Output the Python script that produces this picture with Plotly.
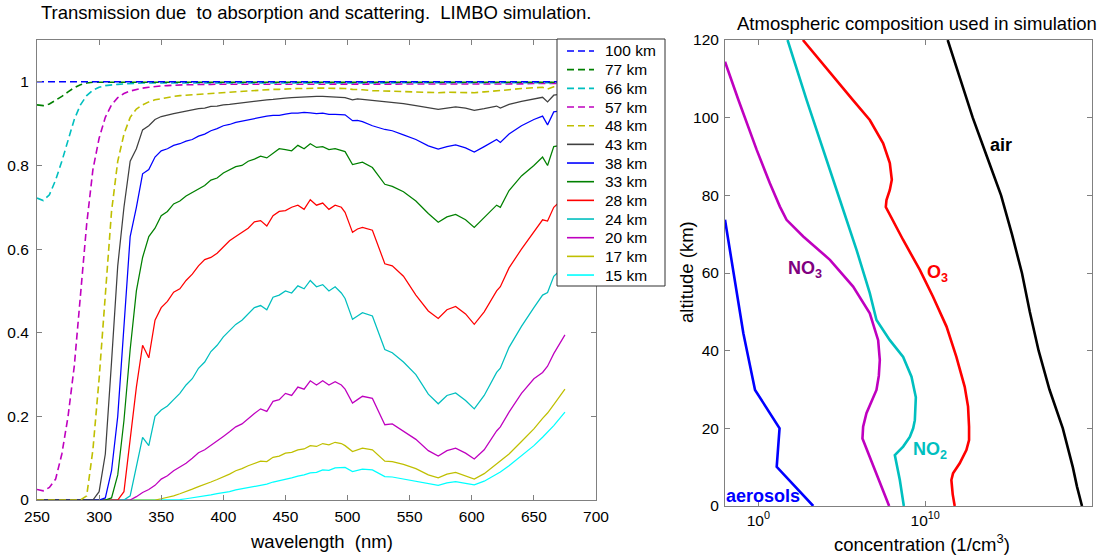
import plotly.graph_objects as go
import numpy as np

W, H = 1106, 556


def px(x):
    return x / W


def py(y):
    return 1 - y / H


# ---------------- Left panel data: transmission vs wavelength (nm) ----------------
wl = [250, 255, 260, 265, 270, 275, 280, 285, 290, 295,
      300, 305, 310, 315, 320, 325, 330, 335, 340, 345,
      350, 355, 360, 365, 370, 375, 380, 385, 390, 395,
      400, 405, 410, 415, 420, 425, 430, 435, 440, 445,
      450, 455, 460, 465, 470, 475, 480, 485, 490, 495,
      498, 504, 508, 512, 520, 530, 536, 545, 555, 565,
      573, 580, 587, 595, 602, 610, 620, 623, 630, 640,
      650, 657, 661, 666, 675]

t100 = [1.0, 1.0, 1.0, 1.0, 1.0, 1.0, 1.0, 1.0, 1.0, 1.0,
        1.0, 1.0, 1.0, 1.0, 1.0, 1.0, 1.0, 1.0, 1.0, 1.0,
        1.0, 1.0, 1.0, 1.0, 1.0, 1.0, 1.0, 1.0, 1.0, 1.0,
        1.0, 1.0, 1.0, 1.0, 1.0, 1.0, 1.0, 1.0, 1.0, 1.0,
        1.0, 1.0, 1.0, 1.0, 1.0, 1.0, 1.0, 1.0, 1.0, 1.0,
        1.0, 1.0, 1.0, 1.0, 1.0, 1.0, 1.0, 1.0, 1.0, 1.0,
        1.0, 1.0, 1.0, 1.0, 1.0, 1.0, 1.0, 1.0, 1.0, 1.0,
        1.0, 1.0, 1.0, 1.0, 1.0]

t77 = [0.945, 0.943, 0.947, 0.955, 0.965, 0.976, 0.986, 0.993, 0.997, 0.999,
       0.999, 0.999, 0.999, 0.999, 0.999, 0.999, 0.999, 0.999, 0.999, 0.999,
       0.999, 0.999, 0.999, 0.999, 0.999, 0.999, 0.999, 0.999, 0.999, 0.999,
       0.999, 0.999, 0.999, 0.999, 0.999, 0.999, 0.999, 0.999, 0.999, 0.999,
       0.999, 0.999, 0.999, 0.999, 0.999, 0.999, 0.999, 0.999, 0.999, 0.999,
       0.999, 0.999, 0.999, 0.999, 0.999, 0.999, 0.999, 0.999, 0.999, 0.999,
       0.999, 0.999, 0.999, 0.999, 0.999, 0.999, 0.999, 0.999, 0.999, 0.999,
       0.999, 0.999, 0.999, 0.999, 0.999]

t66 = [0.722, 0.716, 0.73, 0.765, 0.81, 0.86, 0.91, 0.945, 0.967, 0.98,
       0.987, 0.991, 0.993, 0.994, 0.995, 0.996, 0.996, 0.997, 0.997, 0.997,
       0.998, 0.998, 0.998, 0.998, 0.998, 0.998, 0.998, 0.998, 0.998, 0.998,
       0.998, 0.998, 0.998, 0.998, 0.998, 0.998, 0.998, 0.998, 0.998, 0.998,
       0.998, 0.998, 0.998, 0.998, 0.998, 0.998, 0.998, 0.998, 0.998, 0.998,
       0.998, 0.998, 0.998, 0.998, 0.998, 0.998, 0.998, 0.998, 0.998, 0.998,
       0.998, 0.998, 0.998, 0.998, 0.998, 0.998, 0.998, 0.998, 0.998, 0.998,
       0.998, 0.998, 0.998, 0.998, 0.998]

t57 = [0.025, 0.022, 0.03, 0.05, 0.11, 0.2, 0.32, 0.5, 0.66, 0.79,
       0.865, 0.915, 0.945, 0.962, 0.972, 0.978, 0.982, 0.985, 0.987, 0.989,
       0.99, 0.991, 0.992, 0.992, 0.993, 0.993, 0.994, 0.994, 0.994, 0.994,
       0.995, 0.995, 0.995, 0.995, 0.995, 0.995, 0.995, 0.995, 0.995, 0.995,
       0.995, 0.995, 0.995, 0.995, 0.995, 0.995, 0.995, 0.995, 0.995, 0.995,
       0.995, 0.995, 0.995, 0.995, 0.995, 0.995, 0.995, 0.995, 0.995, 0.995,
       0.995, 0.995, 0.995, 0.995, 0.995, 0.995, 0.995, 0.995, 0.995, 0.995,
       0.996, 0.996, 0.996, 0.996, 0.996]

t48 = [0, 0, 0, 0, 0, 0, 0, 0, 0.01, 0.12,
       0.29, 0.5, 0.69, 0.81, 0.875, 0.915, 0.935, 0.945, 0.952, 0.957,
       0.96, 0.963, 0.965, 0.967, 0.968, 0.969, 0.97, 0.971, 0.972, 0.973,
       0.975, 0.976, 0.977, 0.978, 0.979, 0.98, 0.981, 0.981, 0.982, 0.982,
       0.983, 0.983, 0.984, 0.984, 0.985, 0.985, 0.985, 0.985, 0.985, 0.985,
       0.984, 0.982, 0.982, 0.981, 0.979, 0.978, 0.978, 0.977, 0.976, 0.975,
       0.974, 0.975, 0.975, 0.974, 0.974, 0.976, 0.978, 0.978, 0.981, 0.984,
       0.986, 0.987, 0.983, 0.988, 0.99]

t43 = [0, 0, 0, 0, 0, 0, 0, 0, 0, 0,
       0.02, 0.11, 0.33, 0.56, 0.7, 0.81, 0.84, 0.885, 0.895, 0.91,
       0.917, 0.921, 0.924, 0.927, 0.93, 0.932, 0.936, 0.937, 0.941, 0.942,
       0.945, 0.946, 0.948, 0.95, 0.952, 0.953, 0.955, 0.957, 0.958, 0.96,
       0.961, 0.962, 0.963, 0.964, 0.965, 0.965, 0.965, 0.964, 0.964, 0.963,
       0.962, 0.957, 0.959, 0.958, 0.956, 0.953, 0.952, 0.948, 0.943, 0.937,
       0.934, 0.937, 0.94, 0.937, 0.932, 0.936, 0.942, 0.937, 0.946, 0.953,
       0.959, 0.963, 0.952, 0.968, 0.972]

t38 = [0, 0, 0, 0, 0, 0, 0, 0, 0, 0,
       0, 0.005, 0.07, 0.2, 0.41, 0.63, 0.7, 0.78, 0.79, 0.82,
       0.835, 0.84, 0.848, 0.852, 0.858, 0.862, 0.87, 0.875, 0.883, 0.888,
       0.895, 0.898, 0.903, 0.906, 0.91, 0.912, 0.915, 0.918, 0.92, 0.92,
       0.923, 0.925, 0.925, 0.927, 0.926, 0.924, 0.925, 0.922, 0.922, 0.921,
       0.921, 0.907, 0.908, 0.905, 0.895, 0.886, 0.883, 0.873, 0.862, 0.847,
       0.839, 0.845, 0.849, 0.842, 0.832, 0.845, 0.862, 0.855, 0.875, 0.895,
       0.91, 0.918, 0.897, 0.928, 0.932]

t33 = [0, 0, 0, 0, 0, 0, 0, 0, 0, 0,
       0, 0, 0.005, 0.06, 0.19, 0.36, 0.5, 0.58, 0.63, 0.65,
       0.68, 0.69, 0.708, 0.715, 0.727, 0.735, 0.745, 0.752, 0.765, 0.77,
       0.782, 0.79, 0.797, 0.8, 0.81, 0.815, 0.822, 0.818, 0.83, 0.84,
       0.838, 0.835, 0.848, 0.84, 0.852, 0.843, 0.845, 0.838, 0.84, 0.835,
       0.833, 0.802, 0.805, 0.808, 0.795, 0.755, 0.75, 0.737, 0.715, 0.685,
       0.664, 0.677, 0.683, 0.67, 0.652, 0.675, 0.705, 0.7, 0.74, 0.775,
       0.8, 0.82, 0.8, 0.845, 0.85]

t28 = [0, 0, 0, 0, 0, 0, 0, 0, 0, 0,
       0, 0, 0, 0, 0.02, 0.15, 0.27, 0.37, 0.34, 0.43,
       0.46, 0.475, 0.497, 0.505, 0.525, 0.54, 0.56, 0.575, 0.58, 0.59,
       0.605, 0.62, 0.63, 0.64, 0.65, 0.665, 0.668, 0.655, 0.68, 0.69,
       0.692, 0.7, 0.705, 0.695, 0.718, 0.705, 0.71, 0.695, 0.705, 0.7,
       0.688, 0.64, 0.648, 0.652, 0.645, 0.565, 0.56, 0.535, 0.49, 0.452,
       0.434, 0.455, 0.463, 0.445, 0.42, 0.45, 0.5, 0.51, 0.555, 0.6,
       0.64, 0.67, 0.667, 0.7, 0.725]

t24 = [0, 0, 0, 0, 0, 0, 0, 0, 0, 0,
       0, 0, 0, 0, 0, 0.01, 0.08, 0.15, 0.13, 0.2,
       0.215, 0.225, 0.24, 0.255, 0.275, 0.29, 0.315, 0.33, 0.355, 0.37,
       0.39, 0.405, 0.42, 0.43, 0.445, 0.46, 0.465, 0.455, 0.485, 0.49,
       0.5, 0.495, 0.512, 0.505, 0.525, 0.51, 0.515, 0.5, 0.51, 0.495,
       0.482, 0.432, 0.44, 0.448, 0.44, 0.36, 0.352, 0.33, 0.3, 0.253,
       0.23, 0.25, 0.256, 0.238, 0.218, 0.25, 0.305, 0.315, 0.365, 0.415,
       0.46, 0.49, 0.496, 0.535, 0.56]

t20 = [0, 0, 0, 0, 0, 0, 0, 0, 0, 0,
       0, 0, 0, 0, 0, 0, 0.008, 0.018, 0.025, 0.035,
       0.05, 0.058, 0.07, 0.078, 0.088, 0.1, 0.113, 0.12, 0.13, 0.14,
       0.152, 0.163, 0.175, 0.182, 0.195, 0.207, 0.218, 0.212, 0.236, 0.24,
       0.255, 0.25, 0.27, 0.265, 0.285, 0.275, 0.285, 0.275, 0.283, 0.275,
       0.265, 0.232, 0.24, 0.248, 0.243, 0.18, 0.182, 0.165, 0.145, 0.118,
       0.105, 0.118, 0.124, 0.112, 0.098, 0.12, 0.165, 0.175, 0.21, 0.255,
       0.29, 0.305, 0.32, 0.35, 0.395]

t17 = [0, 0, 0, 0, 0, 0, 0, 0, 0, 0,
       0, 0, 0, 0, 0, 0, 0, 0, 0, 0,
       0.003, 0.006, 0.01, 0.015, 0.02, 0.026, 0.032, 0.037, 0.043, 0.049,
       0.055, 0.062, 0.07, 0.075, 0.082, 0.088, 0.093, 0.092, 0.102, 0.105,
       0.112, 0.114, 0.12, 0.122, 0.13, 0.128, 0.135, 0.132, 0.138, 0.135,
       0.13, 0.116, 0.12, 0.124, 0.12, 0.093, 0.092, 0.085, 0.075, 0.06,
       0.053, 0.062, 0.066, 0.058, 0.05, 0.063, 0.087, 0.092, 0.11, 0.14,
       0.17, 0.195, 0.208, 0.228, 0.265]

t15 = [0, 0, 0, 0, 0, 0, 0, 0, 0, 0,
       0, 0, 0, 0, 0, 0, 0, 0, 0, 0,
       0, 0, 0, 0.001, 0.003, 0.005, 0.007, 0.01, 0.012, 0.015,
       0.017, 0.02, 0.024, 0.027, 0.03, 0.033, 0.036, 0.038, 0.043, 0.046,
       0.05, 0.053, 0.057, 0.06, 0.065, 0.066, 0.072, 0.071, 0.077, 0.077,
       0.078, 0.068, 0.071, 0.074, 0.072, 0.056, 0.055, 0.05, 0.045, 0.038,
       0.035, 0.041, 0.044, 0.04, 0.036, 0.045, 0.063, 0.067, 0.082, 0.105,
       0.13, 0.15, 0.162, 0.178, 0.21]

legend_names = ["100 km", "77 km", "66 km", "57 km", "48 km", "43 km", "38 km",
                "33 km", "28 km", "24 km", "20 km", "17 km", "15 km"]
series = [t100, t77, t66, t57, t48, t43, t38, t33, t28, t24, t20, t17, t15]
colors = ["#0000FF", "#008000", "#00BFBF", "#BF00BF", "#BFBF00", "#404040", "#0000FF",
          "#008000", "#FF0000", "#00BFBF", "#BF00BF", "#BFBF00", "#00FFFF"]
dashed = [True, True, True, True, True, False, False,
          False, False, False, False, False, False]

# ---------------- Right panel data: log10 concentration (1/cm^3) vs altitude (km) ----------------
air_alt = [0, 5, 10, 15, 20, 30, 40, 50, 60, 70, 80, 90, 100, 110, 120]
air_log = [19.4, 19.1, 18.85, 18.55, 18.25, 17.45, 16.8, 16.27, 15.8, 15.2, 14.55, 13.7, 12.85, 12.1, 11.35]

o3_alt = [0, 3, 6.7, 8.4, 11, 14.4, 17, 20.4, 25.6, 30.7, 38.4, 46.2, 53.9, 60.8,
          68.5, 74.9, 77, 78.8, 81.4, 84, 88.3, 93.4, 99.4, 104.6, 110, 115, 120]
o3_log = [11.77, 11.65, 11.57, 11.67, 12.07, 12.47, 12.63, 12.63, 12.57, 12.37, 11.87, 11.28, 10.47, 9.68,
          8.68, 7.88, 7.64, 7.68, 7.88, 8.0, 7.88, 7.48, 6.68, 5.66, 4.61, 3.64, 2.67]

no2_alt = [0, 6.7, 13.1, 13.6, 15.3, 17.8, 20, 22.1, 28, 33.3, 38.4, 42.7, 47.9,
           54.8, 65.9, 78.8, 91.7, 104.6, 120]
no2_log = [8.72, 8.48, 8.18, 8.28, 8.68, 9.08, 9.28, 9.38, 9.44, 9.18, 8.68, 7.88, 7.08,
           6.68, 5.89, 4.89, 3.89, 2.89, 1.75]

no3_alt = [0, 17.4, 20.4, 23.9, 29.9, 33.5, 37.6, 42.7, 49.6, 56.5, 63.4, 69.4, 73.7,
           77.1, 83.1, 91.7, 104.6, 114.4]
no3_log = [7.84, 6.24, 6.28, 6.48, 7.08, 7.22, 7.28, 7.18, 6.68, 5.68, 4.29, 2.69, 1.69,
           1.29, 0.69, -0.1, -1.2, -2.0]

aer_alt = [0, 10.1, 20, 29.9, 44.5, 59.9, 73.7]
aer_log = [3.29, 1.1, 1.27, -0.2, -0.9, -1.5, -2.0]

FONT = "Liberation Sans, Arial, Helvetica, sans-serif"
AXC = "#808080"

fig = go.Figure()

# lowest altitude first so that high-altitude curves lie on top
for name, vals, col, dsh in reversed(list(zip(legend_names, series, colors, dashed))):
    fig.add_trace(go.Scatter(
        x=wl, y=vals, mode="lines", name=name, showlegend=False,
        line=dict(color=col, width=1.6 if dsh else 1.25,
                  dash="7px,4px" if dsh else "solid"),
        xaxis="x", yaxis="y"))

profiles = [
    ("aerosols", aer_alt, aer_log, "#0000FF"),
    ("NO3", no3_alt, no3_log, "#BF00BF"),
    ("NO2", no2_alt, no2_log, "#00BFBF"),
    ("O3", o3_alt, o3_log, "#FF0000"),
    ("air", air_alt, air_log, "#000000"),
]
for name, alt, lg, col in profiles:
    fig.add_trace(go.Scatter(
        x=10 ** np.array(lg, dtype=float), y=alt, mode="lines", name=name, showlegend=False,
        line=dict(color=col, width=2.6), xaxis="x2", yaxis="y2"))

common_axis = dict(showline=True, linecolor=AXC, linewidth=1, mirror="ticks",
                   ticks="inside", ticklen=5, tickcolor=AXC, showgrid=False,
                   zeroline=False, automargin=False,
                   tickfont=dict(family=FONT, size=15.5, color="#000"))

fig.update_layout(
    width=W, height=H,
    margin=dict(l=0, r=0, t=0, b=0, autoexpand=False),
    paper_bgcolor="white", plot_bgcolor="white",
    font=dict(family=FONT, color="#000"),
    showlegend=False,
    xaxis=dict(domain=[px(37), px(596)], range=[250, 700],
               tickvals=[250, 300, 350, 400, 450, 500, 550, 600, 650, 700],
               anchor="y", ticklabelstandoff=2, **common_axis),
    yaxis=dict(domain=[py(500), py(40)], range=[0, 1.1],
               tickvals=[0, 0.2, 0.4, 0.6, 0.8, 1.0],
               ticktext=["0", "0.2", "0.4", "0.6", "0.8", "1"],
               anchor="x", ticklabelstandoff=4, **common_axis),
    xaxis2=dict(domain=[px(725), px(1092)], type="log", range=[-2, 20],
                tickvals=[1, 1e10, 1e20],
                ticktext=["10<sup>0</sup>", "10<sup>10</sup>", "10<sup>20</sup>"],
                anchor="y2", **common_axis),
    yaxis2=dict(domain=[py(506), py(40)], range=[0, 120],
                tickvals=[0, 20, 40, 60, 80, 100, 120],
                anchor="x2", ticklabelstandoff=2, **common_axis),
)

# ---- legend box (drawn as a boxed key over the left axes, like the original) ----
LEG_X0, LEG_X1, LEG_Y0, LEG_Y1 = 557, 665, 39, 286
LEG_FIRST, LEG_STEP = 51, 18.67
shapes = [dict(type="rect", xref="paper", yref="paper",
               x0=px(LEG_X0), x1=px(LEG_X1), y0=py(LEG_Y1), y1=py(LEG_Y0),
               fillcolor="white", line=dict(color="#303030", width=1), layer="above")]
ann = []
for i, (name, col, dsh) in enumerate(zip(legend_names, colors, dashed)):
    yc = LEG_FIRST + i * LEG_STEP
    shapes.append(dict(type="line", xref="paper", yref="paper",
                       x0=px(567), x1=px(594), y0=py(yc), y1=py(yc), layer="above",
                       line=dict(color=col, width=1.6, dash="7px,4px" if dsh else "solid")))
    ann.append(dict(text=name, x=px(603), y=py(yc), xref="paper", yref="paper",
                    xanchor="left", yanchor="middle", font=dict(size=15.5)))

NB = "\u00a0"
ann += [
    dict(text="Transmission due" + NB + NB + "to absorption and scattering." + NB + NB + "LIMBO simulation.",
         x=px(316), y=py(13), xref="paper", yref="paper", xanchor="center", yanchor="middle",
         font=dict(size=18.5)),
    dict(text="Atmospheric composition used in simulation",
         x=px(917), y=py(24), xref="paper", yref="paper", xanchor="center", yanchor="middle",
         font=dict(size=18.5)),
    dict(text="wavelength" + NB + NB + "(nm)",
         x=px(321), y=py(541), xref="paper", yref="paper", xanchor="center", yanchor="middle",
         font=dict(size=18.5)),
    dict(text="concentration (1/cm<sup>3</sup>)",
         x=px(922), y=py(543), xref="paper", yref="paper", xanchor="center", yanchor="middle",
         font=dict(size=18.5)),
    dict(text="altitude (km)", textangle=-90,
         x=px(686), y=py(272), xref="paper", yref="paper", xanchor="center", yanchor="middle",
         font=dict(size=18.5)),
    dict(text="<b>air</b>", x=14.57, y=93, xref="x2", yref="y2", xanchor="center", yanchor="middle",
         font=dict(size=18, color="#000000")),
    dict(text="<b>O<sub>3</sub></b>", x=10.75, y=60, xref="x2", yref="y2", xanchor="center", yanchor="middle",
         font=dict(size=18, color="#FF0000")),
    dict(text="<b>NO<sub>3</sub></b>", x=2.79, y=60.8, xref="x2", yref="y2", xanchor="center", yanchor="middle",
         font=dict(size=18, color="#800080")),
    dict(text="<b>NO<sub>2</sub></b>", x=10.28, y=14.4, xref="x2", yref="y2", xanchor="center", yanchor="middle",
         font=dict(size=18, color="#00BFBF")),
    dict(text="<b>aerosols</b>", x=0.3, y=2.5, xref="x2", yref="y2", xanchor="center", yanchor="middle",
         font=dict(size=18, color="#0000FF")),
]
for a in ann:
    a["showarrow"] = False
    a["font"]["family"] = FONT
    a["font"].setdefault("color", "#000")
fig.update_layout(shapes=shapes, annotations=ann)

fig.write_html("out.html",
               config={"displayModeBar": False},
               post_script="document.body.style.margin='0';document.body.style.padding='0';")
